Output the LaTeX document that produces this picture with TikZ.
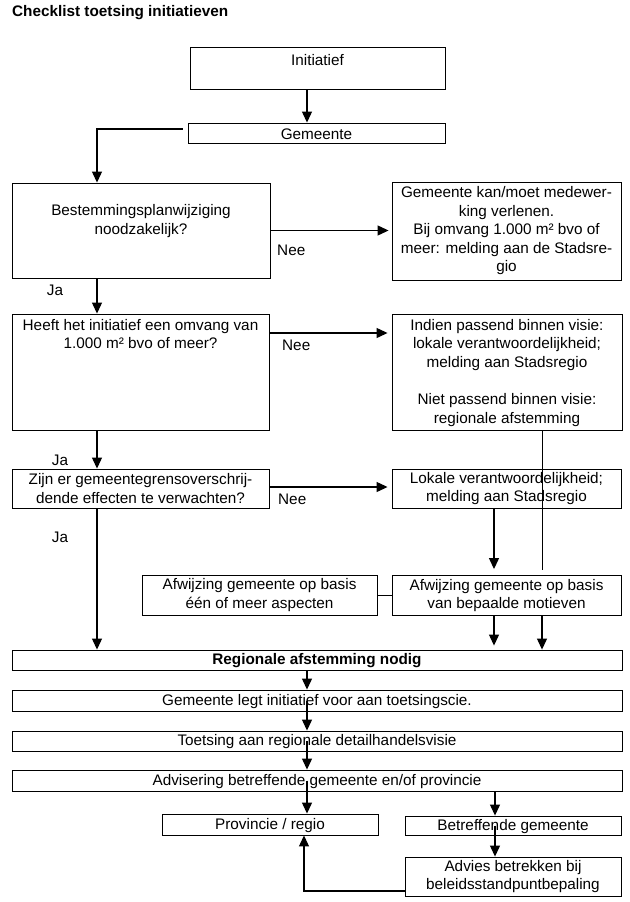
\documentclass[tikz,border=0pt]{standalone}
\usepackage{fontspec}
\setmainfont{Liberation Sans}
\usetikzlibrary{arrows.meta}
\begin{document}
\begin{tikzpicture}[x=1pt,y=-1pt,
  every node/.style={font=\fontsize{15.3}{18.5}\selectfont, text=black},
  box/.style={draw, line width=0.9pt, inner sep=0pt, align=center},
  txt/.style={inner sep=0pt, align=center},
  arr/.style={line width=1.2pt, -{Triangle[length=11pt,width=10pt]}},
  ln/.style={line width=1pt}]
\useasboundingbox (0,0) rectangle (629,902);
\fill[white] (0,0) rectangle (629,902);

\coordinate (c307) at (307,0);
\coordinate (c97) at (97,0);
\coordinate (c494) at (494,0);
\coordinate (c542) at (542,0);
\coordinate (c495) at (495,0);
\coordinate (c304) at (304,0);

\node[txt, anchor=base west, font=\bfseries\fontsize{15.3}{18.5}\selectfont] (title) at (12,16.5) {Checklist toetsing initiatieven};

\node[box, minimum width=255pt, minimum height=42pt] (init) at (317.5,68) {};
\node[txt] (initT) at (317.5,60) {Initiatief};
\node[box, minimum width=257pt, minimum height=20pt] (gem) at (316.5,133) {};
\node[txt] (gemT) at (316.5,134) {Gemeente};
\node[box, minimum width=258pt, minimum height=95pt] (best) at (141,230.5) {};
\node[txt] (bestT) at (141,221) {Bestemmingsplanwijziging\\noodzakelijk?};
\node[box, minimum width=229pt, minimum height=98pt] (r1) at (506.5,231) {Gemeente kan/moet medewer-\\king verlenen.\\Bij omvang 1.000 m² bvo of\\meer: melding aan de Stadsre-\\gio};
\node[box, minimum width=257pt, minimum height=116pt] (heeft) at (140.5,372) {};
\node[txt] (heeftT) at (140.5,334) {Heeft het initiatief een omvang van\\1.000 m² bvo of meer?};
\node[box, minimum width=230pt, minimum height=116pt] (indien) at (507,372) {};
\node[txt] (indienT) at (507,373) {Indien passend binnen visie:\\lokale verantwoordelijkheid;\\melding aan Stadsregio\\[19pt]Niet passend binnen visie:\\regionale afstemming};
\node[box, minimum width=257pt, minimum height=39pt] (zijn) at (140.5,488.5) {Zijn er gemeentegrensoverschrij-\\dende effecten te verwachten?};
\node[box, minimum width=229pt, minimum height=39pt] (lok) at (506.5,488.5) {Lokale verantwoordelijkheid;\\melding aan Stadsregio};
\node[box, minimum width=235pt, minimum height=40pt] (afl) at (259.5,595) {Afwijzing gemeente op basis\\één of meer aspecten};
\node[box, minimum width=229pt, minimum height=40pt] (afr) at (506.5,595.5) {Afwijzing gemeente op basis\\van bepaalde motieven};
\node[box, minimum width=610pt, minimum height=20pt] (reg) at (317,660) {};
\node[txt, font=\bfseries\fontsize{15.3}{18.5}\selectfont] (regT) at (317,661) {Regionale afstemming nodig};
\node[box, minimum width=610pt, minimum height=21pt] (legt) at (317,700.5) {};
\node[txt] (legtT) at (317,701.5) {Gemeente legt initiatief voor aan toetsingscie.};
\node[box, minimum width=610pt, minimum height=20pt] (toets) at (317,741) {};
\node[txt] (toetsT) at (317,742) {Toetsing aan regionale detailhandelsvisie};
\node[box, minimum width=610pt, minimum height=21pt] (adv) at (317,780.5) {};
\node[txt] (advT) at (317,781.5) {Advisering betreffende gemeente en/of provincie};
\node[box, minimum width=216pt, minimum height=21pt] (prov) at (270,824.5) {};
\node[txt] (provT) at (270,825.5) {Provincie / regio};
\node[box, minimum width=216pt, minimum height=19pt] (betr) at (513,825.5) {};
\node[txt] (betrT) at (513,826.5) {Betreffende gemeente};
\node[box, minimum width=216pt, minimum height=39pt] (advies) at (513,876.5) {Advies betrekken bij\\beleidsstandpuntbepaling};

\node[txt, anchor=west] (nee1) at (277,250) {Nee};
\node[txt, anchor=west] (nee2) at (282,345) {Nee};
\node[txt, anchor=west] (nee3) at (278,499) {Nee};
\node[txt] (ja1) at (55,290) {Ja};
\node[txt] (ja2) at (60,460) {Ja};
\node[txt] (ja3) at (60,537) {Ja};

\draw[arr] (init.south -| c307) -- (gem.north -| c307);
\draw[arr] ([xshift=-5pt,yshift=4pt]gem.west) -| (best.north -| c97);
\draw[arr, shorten >=3pt] (best.east) -- (best.east -| r1.west);
\draw[arr] (best.south -| c97) -- (heeft.north -| c97);
\draw[arr, shorten >=4pt] ([yshift=39pt]heeft.east) -- ([yshift=39pt]heeft.east -| indien.west);
\draw[arr] (heeft.south -| c97) -- (zijn.north -| c97);
\draw[arr, shorten >=4pt] ([yshift=1.5pt]zijn.east) -- ([yshift=1.5pt]zijn.east -| lok.west);
\draw[arr] (zijn.south -| c97) -- (reg.north -| c97);
\draw[arr, shorten >=6pt] (lok.south -| c494) -- (afr.north -| c494);
\draw[ln, shorten >=5pt] (indien.south -| c542) -- (afr.north -| c542);
\draw[ln] (afl.east) -- (afl.east -| afr.west);
\draw[arr, shorten >=4pt] (afr.south -| c494) -- (reg.north -| c494);
\draw[arr] (afr.south -| c542) -- (reg.north -| c542);
\draw[arr] (reg.south -| c307) -- (legt.north -| c307);
\draw[arr] (legt.center -| c307) -- (toets.north -| c307);
\draw[arr] (toets.center -| c307) -- (adv.north -| c307);
\draw[arr] (adv.center -| c307) -- (prov.north -| c307);
\draw[arr] (adv.south -| c495) -- (betr.north -| c495);
\draw[arr] (betr.center -| c495) -- (advies.north -| c495);
\draw[arr] ([yshift=-14.5pt]advies.west) -| (prov.south -| c304);
\end{tikzpicture}
\end{document}
